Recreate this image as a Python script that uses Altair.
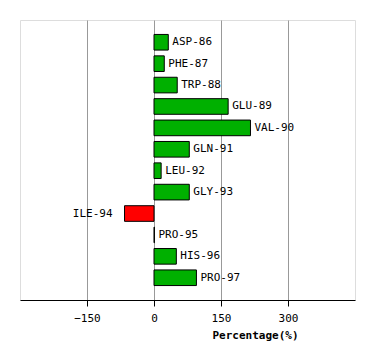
import altair as alt
import pandas as pd

residues = ["ASP-86", "PHE-87", "TRP-88", "GLU-89", "VAL-90", "GLN-91",
            "LEU-92", "GLY-93", "ILE-94", "PRO-95", "HIS-96", "PRO-97"]
values = [32, 23, 52, 166, 216, 79, 16, 79, -66, 1, 50, 95]

df = pd.DataFrame({"residue": residues, "value": values})
df["sign"] = ["pos" if v >= 0 else "neg" for v in values]

x_scale = alt.Scale(domain=[-300, 450], nice=False, zero=False)
y_scale = alt.Scale(domain=residues, paddingInner=0.27, paddingOuter=0.675)

base = alt.Chart(df)

bars = base.mark_bar(stroke="black", strokeWidth=1).encode(
    x=alt.X("value:Q", scale=x_scale,
            axis=alt.Axis(values=[-150, 0, 150, 300], title="Percentage(%)",
                          grid=True, gridColor="#999999", gridWidth=1,
                          domainColor="black", tickColor="black", tickSize=6,
                          labelFont="DejaVu Sans Mono", labelFontSize=11,
                          labelColor="black", labelPadding=6,
                          titleFont="DejaVu Sans Mono", titleFontSize=11,
                          titleFontWeight="bold", titleColor="black",
                          titleX=235, titlePadding=6)),
    x2=alt.datum(0),
    y=alt.Y("residue:N", scale=y_scale, axis=None, sort=residues),
    color=alt.Color("sign:N", scale=alt.Scale(domain=["pos", "neg"],
                                              range=["#00b000", "#ff0000"]),
                    legend=None),
)

labels_pos = base.transform_filter("datum.value >= 0").mark_text(
    align="left", baseline="middle", dx=4,
    font="DejaVu Sans Mono", fontSize=11, color="black").encode(
    x=alt.X("value:Q", scale=x_scale),
    y=alt.Y("residue:N", scale=y_scale, sort=residues),
    text="residue:N",
)

labels_neg = base.transform_filter("datum.value < 0").mark_text(
    align="right", baseline="middle", dx=-12,
    font="DejaVu Sans Mono", fontSize=11, color="black").encode(
    x=alt.X("value:Q", scale=x_scale),
    y=alt.Y("residue:N", scale=y_scale, sort=residues),
    text="residue:N",
)

chart = alt.layer(bars, labels_pos, labels_neg).properties(
    width=335, height=280,
    autosize=alt.AutoSizeParams(type="none"),
    padding={"left": 12, "top": 12, "right": 11, "bottom": 52},
).configure_view(stroke=None).configure(background="white")

chart.save("out.html", embed_options={"renderer": "svg", "actions": False})
